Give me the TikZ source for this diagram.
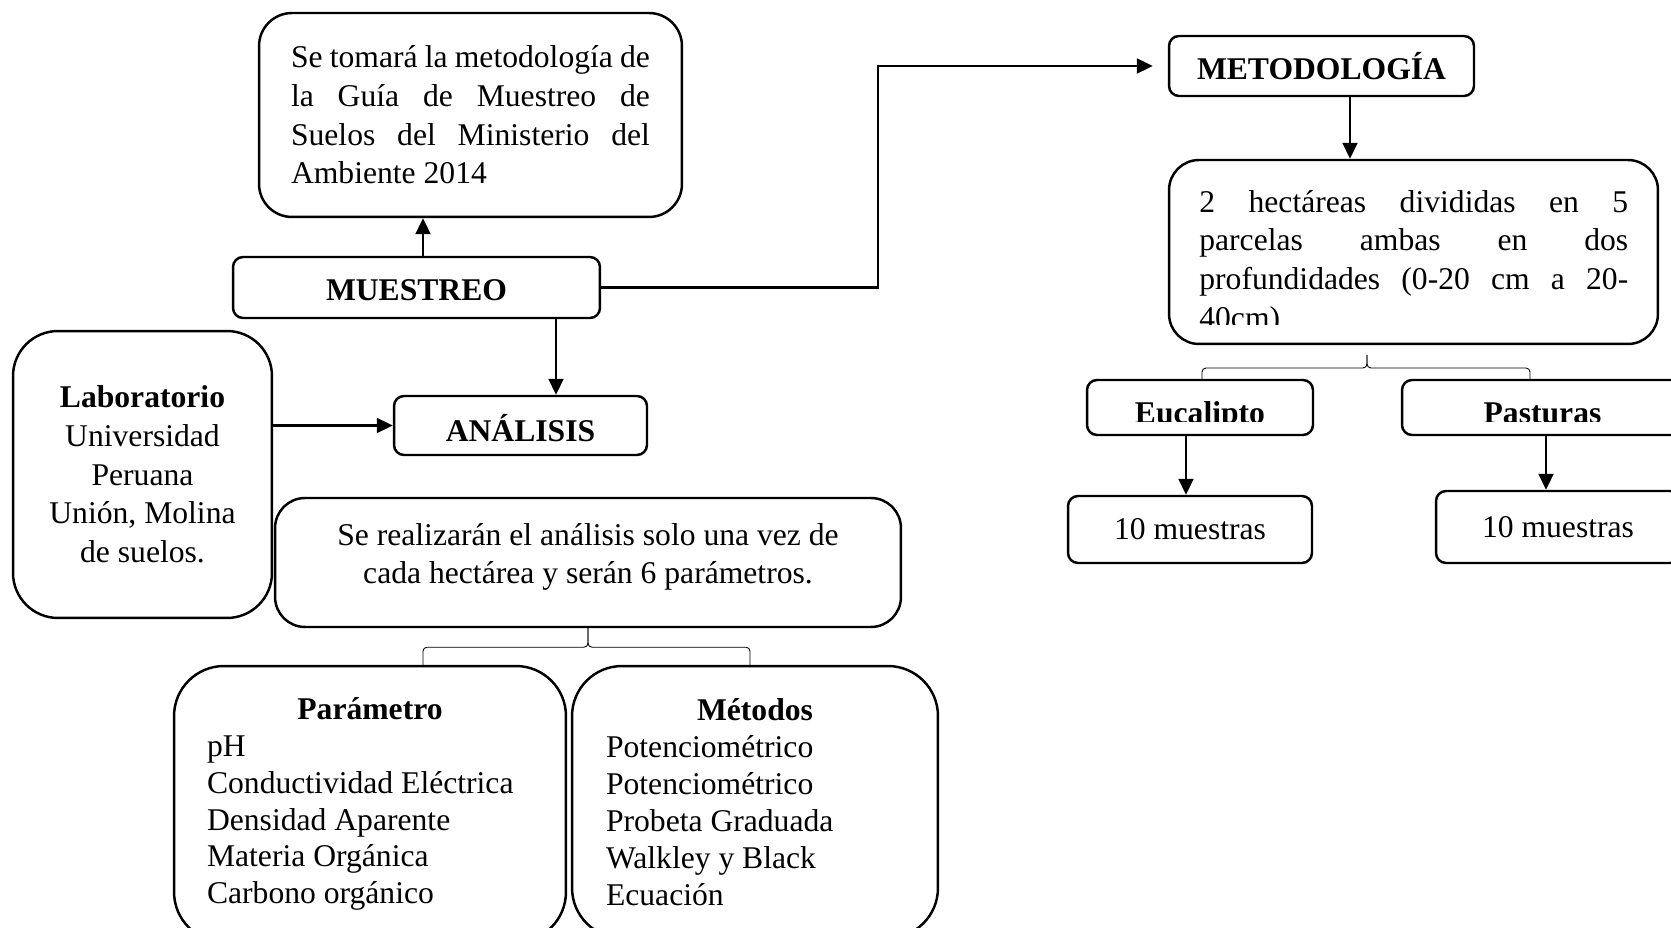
\documentclass[tikz,border=0pt]{standalone}
\usepackage{fontspec}
\setmainfont{Liberation Serif}
\usetikzlibrary{arrows.meta}

\tikzset{
  txt/.style={inner sep=0pt, font=\fontsize{18}{22}\selectfont},
  box/.style={draw, line width=1.4pt, rounded corners=#1, txt},
  box/.default=0.2cm,
  arr/.style={line width=1.2pt, -{Triangle[length=0.32cm,width=0.3cm]}},
  brc/.style={line width=0.5pt, rounded corners=0.08cm},
}

\begin{document}
\begin{tikzpicture}[x=0.02cm, y=-0.02cm]
    \clip (0,0) rectangle (1671,928);

    % Left part
    \node[box=0.66cm, minimum width=8.46cm, minimum height=4.08cm, text width=7.18cm, align=justify] (guia) at (470.5,115)
        {Se tomará la metodología de\linebreak la Guía de Muestreo de\linebreak Suelos del Ministerio del\linebreak Ambiente 2014};
    \node[box, minimum width=7.34cm, minimum height=1.22cm, text height=0.54cm] (muestreo) at (416.5,287.5) {\textbf{MUESTREO}};
    \node[box=0.9cm, minimum width=5.18cm, minimum height=5.74cm, align=flush center] (lab) at (142.5,474.5)
        {\textbf{Laboratorio}\\Universidad\\Peruana\\Unión, Molina\\de suelos.};
    \node[box, minimum width=5.06cm, minimum height=1.18cm, text height=0.65cm] (ana) at (520.5,425.5) {\textbf{ANÁLISIS}};
    \node[box=0.6cm, minimum width=12.52cm, minimum height=2.58cm] (real) at (588,562.5) {};
    \node[txt, align=flush center] (realtxt) at (588,557)
        {Se realizarán el análisis solo una vez de\\cada hectárea y serán 6 parámetros.};
    \node[box=1cm, minimum width=7.84cm, minimum height=5.52cm, text width=6.52cm, align=flush left, font=\fontsize{18}{21}\selectfont] (param) at (370,804)
        {\makebox[\linewidth]{\textbf{Parámetro}}\\pH\\Conductividad Eléctrica\\Densidad Aparente\\Materia Orgánica\\Carbono orgánico};
    \node[box=1cm, minimum width=7.32cm, minimum height=5.44cm, text width=5.96cm, align=flush left, font=\fontsize{18}{21}\selectfont] (metodos) at (755,802)
        {\makebox[\linewidth]{\textbf{Métodos}}\\Potenciométrico\\Potenciométrico\\Probeta Graduada\\Walkley y Black\\Ecuación};

    \draw[arr] (muestreo.north -| 423,0) -- (guia.south -| 423,0);
    \draw[arr] (muestreo.south -| 556,0) -- (ana.north -| 556,0);
    \draw[arr] (ana.west -| lab.east) -- (ana.west);
    \draw[brc] (real.south) -- ++(0,19) -| (423,666);
    \draw[brc] (real.south) -- ++(0,19) -| (750,666);

    % Right part
    \node[box, minimum width=6.1cm, minimum height=1.2cm] (metod) at (1321.5,66) {\textbf{METODOLOGÍA}};
    \node[box=0.6cm, minimum width=9.78cm, minimum height=3.68cm] (hect) at (1413.5,252) {};
    \begin{scope}
        \clip (1169,160) rectangle (1658,325);
        \node[txt, text width=8.58cm, align=justify, anchor=north west] (hecttxt) at (1199,190)
            {2 hectáreas divididas en 5\linebreak parcelas ambas en dos\linebreak profundidades (0-20 cm a 20-\linebreak 40cm)};
    \end{scope}
    \node[box, minimum width=4.52cm, minimum height=1.1cm] (euca) at (1200,407.5) {};
    \node[box, minimum width=5.62cm, minimum height=1.1cm] (past) at (1542.5,407.5) {};
    \begin{scope}
        \clip (1087,380) rectangle (1683,422);
        \node[txt, anchor=base] (eucatxt) at (1200,424) {\textbf{Eucalipto}};
        \node[txt, anchor=base] (pasttxt) at (1542.5,424) {\textbf{Pasturas}};
    \end{scope}
    \node[box, minimum width=4.88cm, minimum height=1.34cm] (mue1) at (1190,529.5) {10 muestras};
    \node[box, minimum width=4.88cm, minimum height=1.44cm] (mue2) at (1558,527) {10 muestras};

    \draw[arr, shorten >=0.3cm] (muestreo.east) -- ++(277,0) |- (metod.west);
    \draw[arr] (metod.south -| 1350,0) -- (hect.north -| 1350,0);
    \draw[brc] (1367,355) -- ++(0,13) -| (1202,380);
    \draw[brc] (1367,355) -- ++(0,13) -| (1530,380);
    \draw[arr] (euca.south -| 1186,0) -- (mue1.north -| 1186,0);
    \draw[arr] (past.south -| 1546,0) -- (mue2.north -| 1546,0);
\end{tikzpicture}
\end{document}
